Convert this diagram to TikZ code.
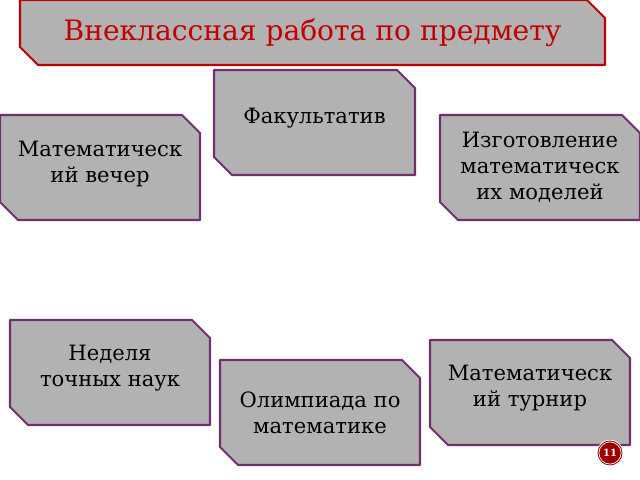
\documentclass[tikz,border=0pt]{standalone}
\usepackage{fontspec}
\setmainfont{DejaVu Serif}
\definecolor{boxgray}{RGB}{178,178,178}
\definecolor{boxedge}{RGB}{112,48,110}
\definecolor{titlered}{RGB}{192,0,0}
\tikzset{
  chfill/.style={fill=boxgray, draw=boxedge, line width=1.5pt, line join=round},
  chtext/.style={align=center, font=\fontsize{15}{18.5}\selectfont},
  titletext/.style={text=titlered, font=\fontsize{20}{24}\selectfont}
}
% box with cut corners: name, x1, y1, x2, y2, style
\newcommand{\chshape}[6]{%
  \draw[chfill,#6] (#2,#3) -- ({#4-18},#3) -- (#4,{#3+18}) -- (#4,#5) -- ({#2+18},#5) -- (#2,{#5-18}) -- cycle;
  \coordinate (#1) at ({(#2+#4)/2},{(#3+#5)/2});}
\begin{document}
\begin{tikzpicture}[x=0.025cm,y=-0.025cm]
  \useasboundingbox (0,0) rectangle (640,480);
  \chshape{title}{20}{0}{605}{65}{draw=titlered}
  \node[titletext] (titlelabel) at (title) {Внеклассная работа по предмету};
  \chshape{fak}{214}{70}{415}{175}{}
  \node[chtext] (faklabel) at ([yshift=0.12cm]fak) {Факультатив};
  \chshape{vecher}{0}{115}{200}{220}{}
  \node[chtext] (vecherlabel) at ([yshift=0.08cm]vecher) {Математическ\\ий вечер};
  \chshape{modeli}{440}{115}{640}{220}{}
  \node[chtext] (modelilabel) at (modeli) {Изготовление\\математическ\\их моделей};
  \chshape{nedelya}{10}{320}{210}{425}{}
  \node[chtext] (nedelyalabel) at ([yshift=0.1cm]nedelya) {Неделя\\точных наук};
  \chshape{olimp}{220}{360}{420}{465}{}
  \node[chtext] (olimplabel) at (olimp) {Олимпиада по\\математике};
  \chshape{turnir}{430}{340}{630}{445}{}
  \node[chtext] (turnirlabel) at ([yshift=0.1cm]turnir) {Математическ\\ий турнир};
  \node[circle, fill=titlered!80!black, draw=white, double=titlered!80!black, line width=0.6pt,
    text=white, inner sep=1pt, minimum size=0.6cm, font=\bfseries\fontsize{7}{8}\selectfont] (num) at (610,453) {11};
\end{tikzpicture}
\end{document}
